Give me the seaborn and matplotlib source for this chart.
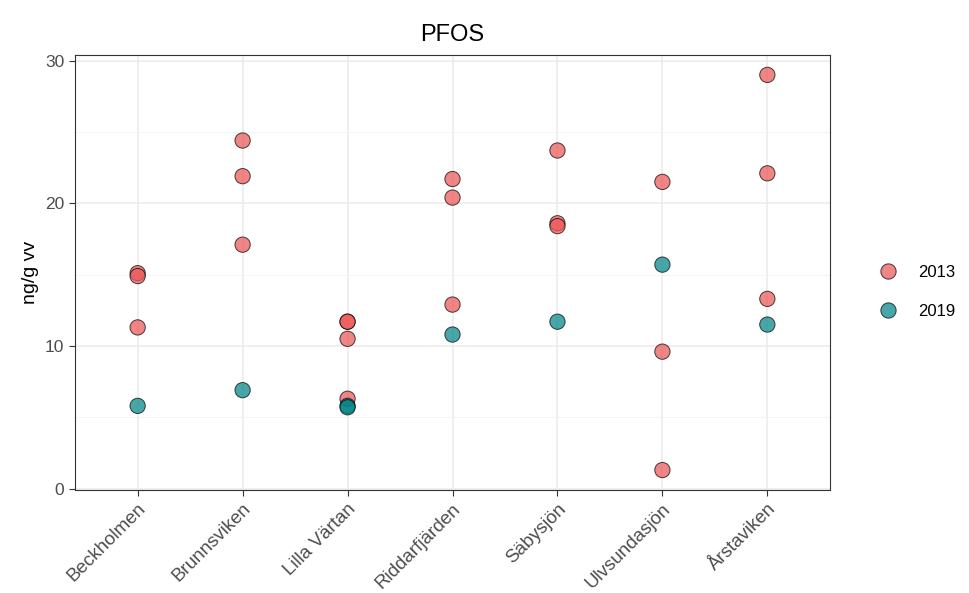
import pandas as pd
import matplotlib.pyplot as plt
import seaborn as sns

# values
stationer = ["Beckholmen", "Brunnsviken", "Lilla Värtan", "Riddarfjärden",
             "Säbysjön", "Ulvsundasjön", "Årstaviken"]

pfos_2013 = {
    "Beckholmen": [15.1, 14.9, 11.3],
    "Brunnsviken": [24.4, 21.9, 17.1],
    "Lilla Värtan": [11.7, 11.7, 10.5, 6.3],
    "Riddarfjärden": [21.7, 20.4, 12.9],
    "Säbysjön": [23.7, 18.6, 18.4],
    "Ulvsundasjön": [21.5, 9.6, 1.3],
    "Årstaviken": [29.0, 22.1, 13.3],
}
pfos_2019 = {
    "Beckholmen": [5.8],
    "Brunnsviken": [6.9],
    "Lilla Värtan": [5.8, 5.7],
    "Riddarfjärden": [10.8],
    "Säbysjön": [11.7],
    "Ulvsundasjön": [15.7],
    "Årstaviken": [11.5],
}

rader = []
for ar, d in [("2013", pfos_2013), ("2019", pfos_2019)]:
    for st in stationer:
        for v in d[st]:
            rader.append({"Station": st, "År": ar, "PFOS": v})
df = pd.DataFrame(rader)

sns.set_style("white")
plt.rcParams["font.family"] = ["Liberation Sans", "DejaVu Sans"]
plt.rcParams["text.color"] = "black"
plt.rcParams["axes.labelcolor"] = "black"

fig = plt.figure(figsize=(9.7, 5.93), dpi=100)
ax = fig.add_axes([0.077, 0.174, 0.779, 0.733])

ax.set_axisbelow(True)
sns.stripplot(data=df, x="Station", y="PFOS", hue="År", order=stationer,
              hue_order=["2013", "2019"], palette=["#EB5656", "#008487"],
              jitter=False, dodge=False, size=11, alpha=0.72,
              edgecolor="black", linewidth=0.7, ax=ax, zorder=3)

ax.set_xlim(-0.6, 6.6)
ax.set_ylim(-0.085, 30.385)
ax.set_yticks([0, 10, 20, 30])
ax.set_yticks([5, 15, 25], minor=True)
ax.grid(True, which="major", color="#EBEBEB", linewidth=1.1)
ax.grid(True, which="minor", axis="y", color="#F2F2F2", linewidth=0.6)
ax.xaxis.grid(True, color="#EBEBEB", linewidth=1.1)

for s in ax.spines.values():
    s.set_visible(True)
    s.set_color("#333333")
    s.set_linewidth(0.8)

ax.tick_params(axis="both", which="major", length=4, width=0.8, color="#333333",
               labelcolor="#4D4D4D", direction="out", bottom=True, left=True)
ax.tick_params(axis="y", which="minor", length=0, left=False)
for t in ax.get_yticklabels():
    t.set_fontsize(12.5)
for t in ax.get_xticklabels():
    t.set_fontsize(13.5)
plt.setp(ax.get_xticklabels(), rotation=45, ha="right", rotation_mode="anchor")

ax.set_xlabel("")
ax.set_ylabel("ng/g vv", fontsize=14, color="black")
ax.set_title("PFOS", fontsize=17, pad=10, color="black")

h, l = ax.get_legend_handles_labels()
ax.legend(h, l, loc="center left", bbox_to_anchor=(1.035, 0.455), frameon=False,
          fontsize=12, labelspacing=1.45, handletextpad=0.8, markerscale=1.0)

fig.savefig("out.png", dpi=100)
